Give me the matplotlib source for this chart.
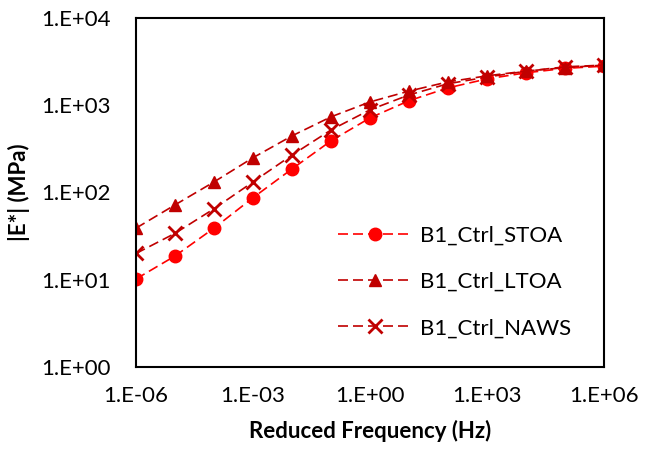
import matplotlib
matplotlib.use("Agg")
import matplotlib.pyplot as plt
from matplotlib.ticker import FixedLocator, NullLocator

plt.rcParams['font.family'] = ['Lato', 'DejaVu Sans']

# reduced frequency (Hz)
freq = [1e-6, 1e-5, 1e-4, 1e-3, 1e-2, 1e-1, 1e0, 1e1, 1e2, 1e3, 1e4, 1e5, 1e6]

# |E*| in MPa
stoa = [10.2, 18.7, 39, 87, 186, 390, 715, 1125, 1580, 2000, 2350, 2640, 2800]
ltoa = [39, 72, 132, 250, 445, 735, 1090, 1450, 1850, 2170, 2460, 2690, 2880]
naws = [20, 34, 65, 132, 268, 520, 885, 1310, 1760, 2100, 2450, 2750, 2880]

labels = ['B1_Ctrl_STOA', 'B1_Ctrl_LTOA', 'B1_Ctrl_NAWS']

xticks = [1e-6, 1e-3, 1e0, 1e3, 1e6]
xtick_labels = ['1.E-06', '1.E-03', '1.E+00', '1.E+03', '1.E+06']
yticks = [1e0, 1e1, 1e2, 1e3, 1e4]
ytick_labels = ['1.E+00', '1.E+01', '1.E+02', '1.E+03', '1.E+04']

fig = plt.figure(figsize=(6.46, 4.59), dpi=100)
ax = fig.add_axes([0.2105, 0.2004, 0.7245, 0.7606])

dash = (6, 3)
ax.plot(freq, stoa, '--o', color='#FF0000', lw=1.2, ms=9, dashes=dash, label=labels[0])
ax.plot(freq, ltoa, '--^', color='#C00000', lw=1.2, ms=9, dashes=dash, label=labels[1])
ax.plot(freq, naws, '--x', color='#C00000', lw=1.2, ms=10, mew=2, dashes=dash, label=labels[2])

ax.set_xscale('log')
ax.set_yscale('log')
ax.set_xlim(1e-6, 1e6)
ax.set_ylim(1e0, 1e4)
ax.xaxis.set_major_locator(FixedLocator(xticks))
ax.yaxis.set_major_locator(FixedLocator(yticks))
ax.xaxis.set_minor_locator(NullLocator())
ax.yaxis.set_minor_locator(NullLocator())
ax.set_xticklabels(xtick_labels, fontsize=16)
ax.set_yticklabels(ytick_labels, fontsize=16)
ax.tick_params(axis='y', length=0, pad=18)
ax.tick_params(axis='x', length=0, pad=14)

for s in ax.spines.values():
    s.set_linewidth(1.5)
    s.set_color('black')

ax.set_xlabel('Reduced Frequency (Hz)', fontsize=16, fontweight='bold', labelpad=10)
ax.set_ylabel('|E*| (MPa)', fontsize=16, fontweight='bold', labelpad=8)

ax.legend(loc='center left', bbox_to_anchor=(0.432, 0.2436), frameon=False, fontsize=16,
          handlelength=3.3, labelspacing=1.18, handletextpad=0.4,
          borderpad=0, borderaxespad=0)

fig.savefig('out.png', dpi=100)
